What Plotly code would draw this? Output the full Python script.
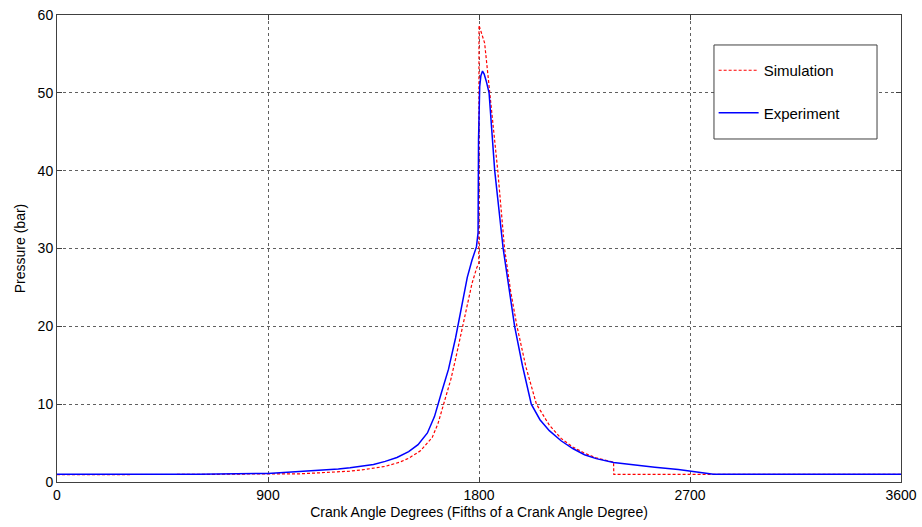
import plotly.graph_objects as go

# Experiment (blue, solid)
exp_x = [0, 300, 600, 900, 1000, 1100, 1200, 1250, 1300, 1350, 1400, 1450, 1500, 1540, 1580,
         1610, 1640, 1670, 1700, 1725, 1750, 1770, 1789, 1796, 1798, 1803, 1808, 1815, 1822,
         1831, 1843, 1867, 1903, 1930, 1952, 1985, 2023, 2060, 2100, 2150, 2200, 2250, 2300,
         2374, 2450, 2550, 2650, 2700, 2740, 2770, 2800, 3000, 3300, 3600]
exp_y = [1.0, 0.98, 1.0, 1.1, 1.27, 1.45, 1.68, 1.83, 2.02, 2.25, 2.65, 3.15, 3.9, 4.8, 6.3,
         8.4, 11.5, 14.5, 18.5, 22.5, 26.3, 28.5, 30.2, 32.0, 44.0, 50.8, 52.2, 52.8, 52.4,
         51.5, 50.0, 40.0, 30.0, 24.5, 20.0, 15.0, 10.0, 8.0, 6.6, 5.3, 4.3, 3.5, 3.0,
         2.5, 2.2, 1.9, 1.6, 1.4, 1.2, 1.05, 1.0, 1.0, 1.0, 1.0]

# Simulation (red, dashed)
sim_x = [0, 300, 600, 900, 1036, 1100, 1200, 1249, 1300, 1350, 1400, 1462, 1500, 1550, 1600,
         1625, 1650, 1680, 1700, 1729, 1750, 1770, 1790, 1799, 1800, 1812, 1824, 1846, 1880,
         1909, 1935, 1962, 2000, 2045, 2100, 2150, 2200, 2250, 2300, 2374, 2375, 2770, 3000,
         3600]
sim_y = [0.95, 0.95, 0.97, 1.05, 1.05, 1.15, 1.3, 1.39, 1.55, 1.75, 2.0, 2.55, 3.05, 4.0, 5.7,
         7.5, 10.0, 13.2, 15.8, 20.0, 23.0, 25.5, 27.5, 28.1, 58.7, 57.6, 56.4, 50.0, 40.0,
         30.0, 24.5, 20.0, 14.8, 10.0, 7.3, 5.6, 4.5, 3.7, 3.1, 2.55, 0.97, 0.97, 0.97,
         0.97]

x_ticks = [0, 900, 1800, 2700, 3600]
y_ticks = [0, 10, 20, 30, 40, 50, 60]

fig = go.Figure()
fig.add_trace(go.Scatter(x=sim_x, y=sim_y, mode="lines", name="Simulation",
                         legendgroup="a",
                         line=dict(color="#ff0000", width=1.2, dash="3px,2px")))
fig.add_trace(go.Scatter(x=exp_x, y=exp_y, mode="lines", name="Experiment",
                         legendgroup="b",
                         line=dict(color="#0000ff", width=1.5)))

axis_common = dict(
    showline=True, linecolor="#404040", linewidth=1, mirror="ticks",
    ticks="inside", ticklen=5, tickcolor="#404040",
    showgrid=True, gridcolor="#606060", griddash="dot", gridwidth=1,
    zeroline=False, automargin=False,
    tickfont=dict(family="Liberation Sans, Arial", size=14, color="#000"),
    title_font=dict(family="Liberation Sans, Arial", size=14, color="#000"),
)

fig.update_xaxes(range=[0, 3600], tickvals=x_ticks, ticktext=[str(v) for v in x_ticks],
                 title_text="Crank Angle Degrees (Fifths of a Crank Angle Degree)",
                 title_standoff=5, **axis_common)
fig.update_yaxes(range=[0, 60], tickvals=y_ticks, ticktext=[str(v) for v in y_ticks],
                 title_text="Pressure (bar)", title_standoff=8, **axis_common)

# legend frame (white box with border, covering grid lines)
fig.add_shape(type="rect", xref="paper", yref="paper",
              x0=0.7784, x1=0.9716, y0=0.7345, y1=0.9358,
              line=dict(color="#404040", width=1), fillcolor="white", layer="above")

fig.update_layout(
    width=922, height=527,
    margin=dict(l=57, r=21, t=15, b=45),
    plot_bgcolor="white", paper_bgcolor="white",
    font=dict(family="Liberation Sans, Arial", size=14, color="#000"),
    legend=dict(x=0.778, y=0.9165, xanchor="left", yanchor="top",
                bgcolor="rgba(0,0,0,0)", borderwidth=0,
                tracegroupgap=20, itemwidth=40,
                font=dict(family="Liberation Sans, Arial", size=15, color="#000")),
)

fig.write_html("out.html", config={"displayModeBar": False},
               post_script="document.body.style.margin='0';")
